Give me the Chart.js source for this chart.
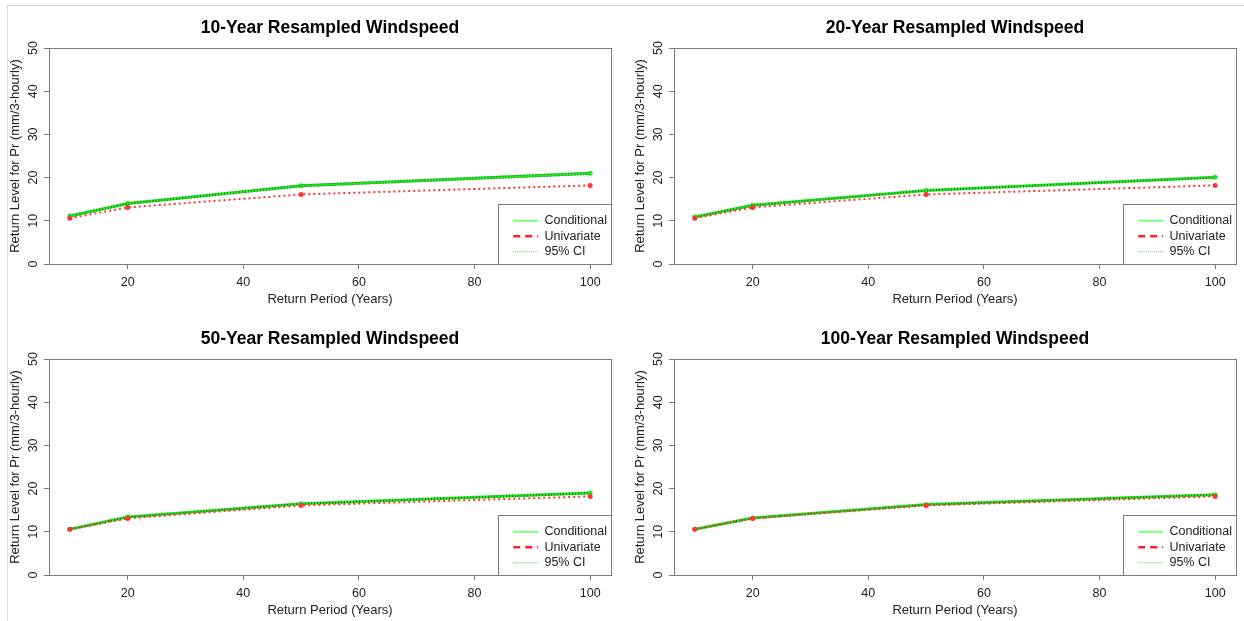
<!DOCTYPE html>
<html>
<head>
<meta charset="utf-8">
<script src="https://cdn.jsdelivr.net/npm/chart.js@4.4.1/dist/chart.umd.min.js"></script>
<style>
  html, body { margin: 0; padding: 0; background: #fff; }
  #wrap { position: relative; width: 1244px; height: 621px; overflow: hidden; }
  #frame { position: absolute; left: 7px; top: 5px; right: 0; bottom: 0;
           border-left: 1px solid #dadada; border-top: 1px solid #dadada; }
  canvas { position: absolute; }
</style>
</head>
<body>
<div id="wrap">
  <div id="frame"></div>
  <canvas id="c0" width="626" height="311" style="left:0px;top:0px"></canvas>
  <canvas id="c1" width="626" height="311" style="left:625px;top:0px"></canvas>
  <canvas id="c2" width="626" height="311" style="left:0px;top:311px"></canvas>
  <canvas id="c3" width="626" height="311" style="left:625px;top:311px"></canvas>
</div>
<script>
// data
const returnPeriods = [10, 20, 50, 100];
const xTicks = [20, 40, 60, 80, 100];
const yTicks = [0, 10, 20, 30, 40, 50];
const panelTitles = [
  '10-Year Resampled Windspeed',
  '20-Year Resampled Windspeed',
  '50-Year Resampled Windspeed',
  '100-Year Resampled Windspeed'
];
const legendLabels = ['Conditional', 'Univariate', '95% CI'];

const univariate = [10.6, 13.1, 16.1, 18.2];

const conditional10 = [11.1, 14.0, 18.1, 21.0];
const ciLower10 = [10.9, 13.8, 17.9, 20.7];
const ciUpper10 = [11.3, 14.1, 18.3, 21.2];

const conditional20 = [10.9, 13.6, 17.0, 20.1];
const ciLower20 = [10.8, 13.4, 16.9, 19.9];
const ciUpper20 = [11.0, 13.7, 17.1, 20.2];

const conditional50 = [10.6, 13.4, 16.5, 19.0];
const ciLower50 = [10.5, 13.3, 16.4, 18.8];
const ciUpper50 = [10.7, 13.5, 16.6, 19.1];

const conditional100 = [10.6, 13.2, 16.3, 18.6];
const ciLower100 = [10.5, 13.1, 16.2, 18.5];
const ciUpper100 = [10.7, 13.3, 16.4, 18.7];

const panels = [
  [conditional10, ciLower10, ciUpper10],
  [conditional20, ciLower20, ciUpper20],
  [conditional50, ciLower50, ciUpper50],
  [conditional100, ciLower100, ciUpper100]
];

Chart.defaults.font.family = "'Liberation Sans', Arial, sans-serif";
Chart.defaults.color = '#222';

const GREEN = '#22ee22';
const RED = '#ff3535';
const AXIS = '#7a7a7a';

const pts = arr => returnPeriods.map((x, i) => ({ x: x, y: arr[i] }));

// R style frame round the plot and the legend, legend moved to bottom right
const rBox = {
  id: 'rBox',
  afterLayout(chart) {
    const lg = chart.legend, ca = chart.chartArea;
    const w = lg.width;
    lg.left = ca.right - w + 6;
    lg.right = lg.left + w;
    lg.bottom = ca.bottom - 3;
  },
  beforeDraw(chart) {
    const { ctx, chartArea: ca, legend: lg } = chart;
    ctx.save();
    ctx.strokeStyle = AXIS;
    ctx.lineWidth = 1;
    ctx.strokeRect(Math.round(ca.left) + 0.5, Math.round(ca.top) + 0.5,
                   Math.round(ca.width), Math.round(ca.height));
    const colH = lg.columnSizes[0].height;
    const fx = Math.round(lg.left - 12), fy = Math.round(lg.bottom - colH - 11);
    ctx.fillStyle = '#fff';
    ctx.fillRect(fx, fy, ca.right - fx, ca.bottom - fy);
    ctx.strokeRect(fx + 0.5, fy + 0.5, Math.round(ca.right - fx), Math.round(ca.bottom - fy));
    ctx.restore();
  }
};

const axisGrid = { display: true, drawOnChartArea: false, drawTicks: true, tickLength: 5, tickColor: AXIS, color: AXIS };

panels.forEach((p, k) => {
  const [cond, lo, hi] = p;
  new Chart(document.getElementById('c' + k), {
    type: 'line',
    data: {
      datasets: [
        { label: 'Univariate', data: pts(univariate), borderColor: RED, backgroundColor: RED,
          borderWidth: 2, borderDash: [2, 3], pointRadius: 2.5, pointBorderWidth: 0,
          pointBackgroundColor: RED, tension: 0 },
        { label: 'CI lower', data: pts(lo), borderColor: '#2c552c', borderWidth: 1,
          borderDash: [1, 2], pointRadius: 0, tension: 0 },
        { label: 'CI upper', data: pts(hi), borderColor: '#2c552c', borderWidth: 1,
          borderDash: [1, 2], pointRadius: 0, tension: 0 },
        { label: 'Conditional', data: pts(cond), borderColor: GREEN, backgroundColor: GREEN,
          borderWidth: 3, pointRadius: 2.5, pointBorderWidth: 0,
          pointBackgroundColor: GREEN, tension: 0 }
      ]
    },
    options: {
      responsive: false,
      animation: false,
      events: [],
      devicePixelRatio: 1,
      layout: { padding: { left: 0, right: 15, top: 0, bottom: 0 } },
      scales: {
        x: {
          type: 'linear', min: 6.4, max: 103.6,
          afterBuildTicks: s => { s.ticks = xTicks.map(v => ({ value: v })); },
          afterFit: s => { s.height = 47; },
          grid: axisGrid,
          border: { display: true, color: AXIS },
          ticks: { font: { size: 12.5 }, padding: 6, maxRotation: 0, autoSkip: false },
          title: { display: true, text: 'Return Period (Years)', font: { size: 13 },
                   padding: { top: 0, bottom: 4 } }
        },
        y: {
          min: 0, max: 50,
          afterBuildTicks: s => { s.ticks = yTicks.map(v => ({ value: v })); },
          afterFit: s => { s.width = 49; },
          grid: axisGrid,
          border: { display: true, color: AXIS },
          ticks: { font: { size: 12.5 }, padding: 4, minRotation: 90, maxRotation: 90,
                   crossAlign: 'center', autoSkip: false },
          title: { display: true, text: 'Return Level for Pr (mm/3-hourly)', font: { size: 13 },
                   padding: { top: 8, bottom: 0 } }
        }
      },
      plugins: {
        tooltip: { enabled: false },
        title: {
          display: true, text: panelTitles[k], fullSize: false, color: '#000',
          font: { size: 17.5, weight: 'bold' }, padding: { top: 18, bottom: 9 }
        },
        legend: {
          position: 'chartArea', align: 'end',
          labels: {
            usePointStyle: true, pointStyleWidth: 25, padding: 3,
            font: { size: 12.5 }, color: '#222',
            generateLabels: () => [
              { text: legendLabels[0], strokeStyle: '#7dfb7d', fillStyle: '#7dfb7d',
                lineWidth: 2, lineDash: [], pointStyle: 'line', fontColor: '#222' },
              { text: legendLabels[1], strokeStyle: '#ff2222', fillStyle: '#ff2222',
                lineWidth: 2.5, lineDash: [7, 5], pointStyle: 'line', fontColor: '#222' },
              { text: legendLabels[2], strokeStyle: '#6cc06c', fillStyle: '#6cc06c',
                lineWidth: 1, lineDash: [1, 1], pointStyle: 'line', fontColor: '#222' }
            ]
          }
        }
      }
    },
    plugins: [rBox]
  });
});
</script>
</body>
</html>
